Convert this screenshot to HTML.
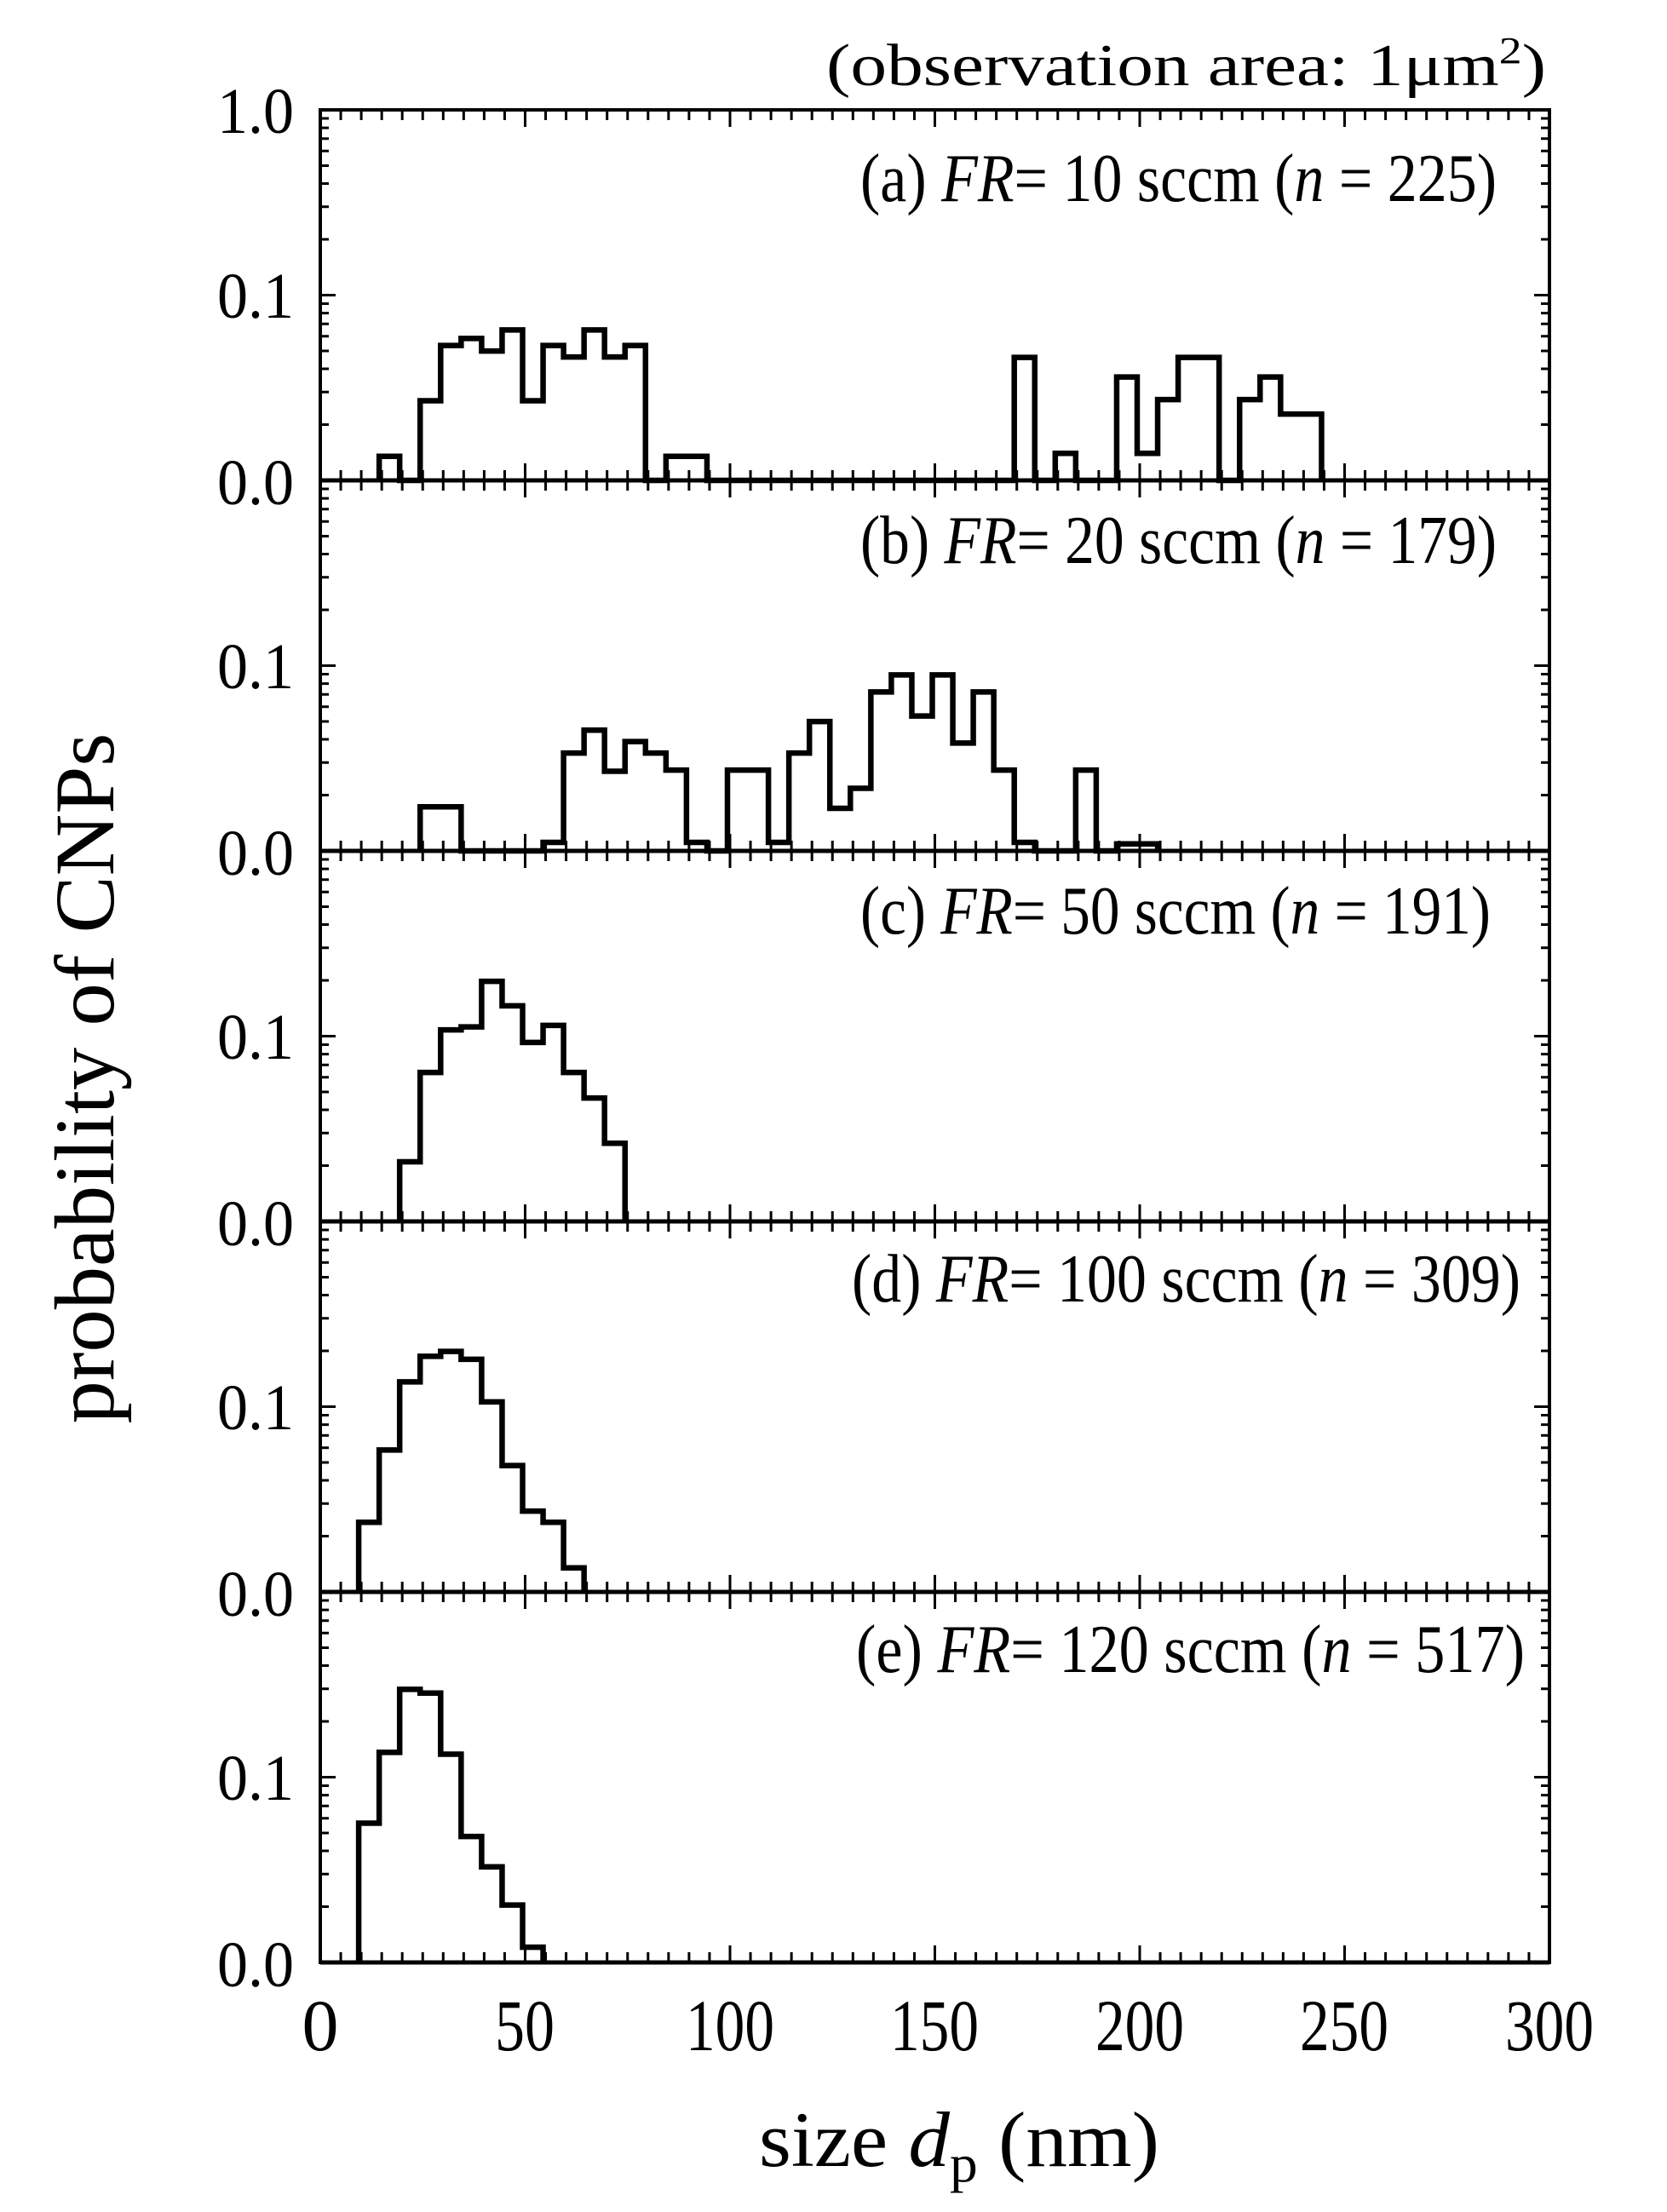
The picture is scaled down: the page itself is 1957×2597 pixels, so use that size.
<!DOCTYPE html>
<html><head><meta charset="utf-8">
<style>html,body{margin:0;padding:0;background:#fff}svg{display:block}</style>
</head><body>
<svg id="s" xmlns="http://www.w3.org/2000/svg" width="1957" height="2597" viewBox="0 0 1957 2597">
<rect width="1957" height="2597" fill="#fff"/>
<g id="g" stroke="#000" fill="none"></g>
<g font-family="'Liberation Serif', serif" fill="#000">
<text x="1815" y="100" font-size="70" text-anchor="end" textLength="845" lengthAdjust="spacingAndGlyphs">(observation area: 1μm<tspan font-size="44" dy="-26">2</tspan><tspan dy="26">)</tspan></text>
<text x="1010" y="236" font-size="80" textLength="747" lengthAdjust="spacingAndGlyphs">(a) <tspan font-style="italic">FR</tspan>= 10 sccm (<tspan font-style="italic">n</tspan> = 225)</text>
<text x="1010" y="661" font-size="80" textLength="747" lengthAdjust="spacingAndGlyphs">(b) <tspan font-style="italic">FR</tspan>= 20 sccm (<tspan font-style="italic">n</tspan> = 179)</text>
<text x="1010" y="1096" font-size="80" textLength="740" lengthAdjust="spacingAndGlyphs">(c) <tspan font-style="italic">FR</tspan>= 50 sccm (<tspan font-style="italic">n</tspan> = 191)</text>
<text x="1000" y="1528" font-size="80" textLength="785" lengthAdjust="spacingAndGlyphs">(d) <tspan font-style="italic">FR</tspan>= 100 sccm (<tspan font-style="italic">n</tspan> = 309)</text>
<text x="1005" y="1963" font-size="80" textLength="785" lengthAdjust="spacingAndGlyphs">(e) <tspan font-style="italic">FR</tspan>= 120 sccm (<tspan font-style="italic">n</tspan> = 517)</text>

<g font-size="76" text-anchor="end">
<text x="345" y="156" textLength="90" lengthAdjust="spacingAndGlyphs">1.0</text>
<text x="345" y="373" textLength="90" lengthAdjust="spacingAndGlyphs">0.1</text>
<text x="345" y="592" textLength="90" lengthAdjust="spacingAndGlyphs">0.0</text>
<text x="345" y="808" textLength="90" lengthAdjust="spacingAndGlyphs">0.1</text>
<text x="345" y="1027" textLength="90" lengthAdjust="spacingAndGlyphs">0.0</text>
<text x="345" y="1243" textLength="90" lengthAdjust="spacingAndGlyphs">0.1</text>
<text x="345" y="1462" textLength="90" lengthAdjust="spacingAndGlyphs">0.0</text>
<text x="345" y="1678" textLength="90" lengthAdjust="spacingAndGlyphs">0.1</text>
<text x="345" y="1897" textLength="90" lengthAdjust="spacingAndGlyphs">0.0</text>
<text x="345" y="2113" textLength="90" lengthAdjust="spacingAndGlyphs">0.1</text>
<text x="345" y="2332" textLength="90" lengthAdjust="spacingAndGlyphs">0.0</text>
</g>
<g font-size="86" text-anchor="middle">
<text x="376" y="2407">0</text>
<text x="616" y="2407" textLength="70" lengthAdjust="spacingAndGlyphs">50</text>
<text x="857" y="2407" textLength="104" lengthAdjust="spacingAndGlyphs">100</text>
<text x="1097" y="2407" textLength="104" lengthAdjust="spacingAndGlyphs">150</text>
<text x="1338" y="2407" textLength="104" lengthAdjust="spacingAndGlyphs">200</text>
<text x="1578" y="2407" textLength="104" lengthAdjust="spacingAndGlyphs">250</text>
<text x="1819" y="2407" textLength="104" lengthAdjust="spacingAndGlyphs">300</text>
</g>
<text x="891" y="2543" font-size="92" textLength="470" lengthAdjust="spacingAndGlyphs">size <tspan font-style="italic">d</tspan><tspan font-size="62" dy="18">p</tspan><tspan dy="-18"> (nm)</tspan></text>
<text transform="translate(133,1266) rotate(-90)" font-size="100" text-anchor="middle" textLength="811" lengthAdjust="spacingAndGlyphs">probability of CNPs</text>
</g>
</svg>
<script>
(function(){
var L=376,R=1819,T=129,H=435,PX=4.81,OFF=-3;
var g=document.getElementById('g');
function add(d,w){var p=document.createElementNS('http://www.w3.org/2000/svg','path');p.setAttribute('d',d);p.setAttribute('stroke-width',w);g.appendChild(p);}
var data=[
[[15,.065],[20,0],[25,.215],[30,.364],[35,.383],[40,.349],[45,.406],[50,.215],[55,.364],[60,.333],[65,.406],[70,.333],[75,.364],[80,0],[85,.065],[90,.065],[95,0],[170,.332],[175,0],[180,.073],[185,0],[195,.279],[200,.073],[205,.218],[210,.332],[215,.332],[220,0],[225,.218],[230,.279],[235,.179],[240,.179],[245,0]],
[[25,.119],[30,.119],[35,0],[55,.023],[60,.264],[65,.326],[70,.215],[75,.295],[80,.264],[85,.218],[90,.023],[95,0],[100,.218],[105,.218],[110,.023],[115,.264],[120,.349],[125,.115],[130,.169],[135,.429],[140,.475],[145,.364],[150,.475],[155,.291],[160,.429],[165,.218],[170,.023],[175,0],[185,.218],[190,0],[195,.019],[200,.019],[205,0]],
[[20,.161],[25,.402],[30,.517],[35,.525],[40,.648],[45,.582],[50,.483],[55,.529],[60,.402],[65,.333],[70,.211],[75,0]],
[[10,.188],[15,.383],[20,.567],[25,.636],[30,.649],[35,.628],[40,.513],[45,.341],[50,.218],[55,.188],[60,.065],[65,0]],
[[10,.376],[15,.567],[20,.737],[25,.727],[30,.562],[35,.340],[40,.258],[45,.155],[50,.041],[55,0]]
];
for(var i=0;i<5;i++){
 var t=T+i*H,b=t+H;
 add('M'+L+' '+t+'H'+R+'V'+b+'H'+L+'Z',4);
 add('M'+L+' '+b+'H'+R,5);
 var tk='';
 for(var n=5;n<300;n+=5){var x=L+n*PX;var len=(n%50==0)?20:12; tk+='M'+x+' '+b+'v'+(-len)+'M'+x+' '+t+'v'+len;}
 for(var dec=0;dec<2;dec++){for(var k=2;k<=9;k++){var y=b-(dec+Math.log10(k))*H/2;tk+='M'+L+' '+y+'h10M'+R+' '+y+'h-10';}}
 var ym=b-H/2; tk+='M'+L+' '+ym+'h18M'+R+' '+ym+'h-18';
 add(tk,3);
 var pts=data[i],s='';
 for(var j=0;j<pts.length;j++){
  var x=L+pts[j][0]*PX+OFF,y=b-pts[j][1]*H;
  if(j==0){s+='M'+x+' '+b+'V'+y;}else{s+='H'+x+'V'+y;}
 }
 add(s,6.5);
}
})();
</script>
</body></html>
